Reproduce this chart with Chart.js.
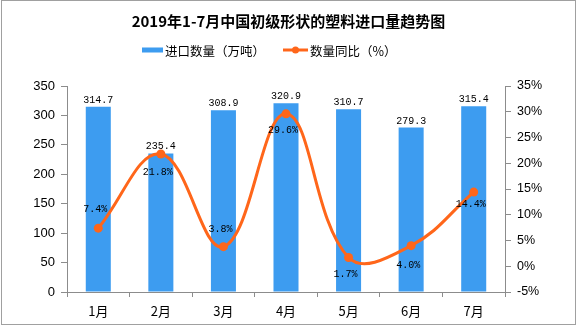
<!DOCTYPE html>
<html>
<head>
<meta charset="utf-8">
<script src="https://cdn.jsdelivr.net/npm/chart.js@4.4.1/dist/chart.umd.min.js"></script>
<style>
  html, body { margin: 0; padding: 0; background: #fff; }
  #wrap { position: relative; width: 577px; height: 327px; }
</style>
</head>
<body>
<div id="wrap"><canvas id="c" width="577" height="327"></canvas></div>
<script>
// Monthly imports of primary-form plastics, Jan–Jul 2019
const months = ['1月', '2月', '3月', '4月', '5月', '6月', '7月'];
const importVolume = [314.7, 235.4, 308.9, 320.9, 310.7, 279.3, 315.4];   // 万吨
const yoyChange = [7.4, 21.8, 3.8, 29.6, 1.7, 4.0, 14.4];                 // %

const chartTitle = '2019年1-7月中国初级形状的塑料进口量趋势图';
const volumeLabel = '进口数量（万吨）';
const yoyLabel = '数量同比（%）';

const BAR_COLOR = '#3d9cf0';
const LINE_COLOR = '#ff661a';
const AXIS_COLOR = '#8c8c8c';
const CJK = '"Noto Sans CJK SC", "Noto Sans", sans-serif';
const MONO = '"Liberation Mono", "DejaVu Sans Mono", monospace';

// placement of each percentage label relative to its point (side, gap in px)
const yoyLabelSide = ['above', 'below', 'above', 'below', 'below', 'below', 'below'];
const yoyLabelGap = [16, 13, 15, 12, 12, 15, 7];

const decorations = {
  id: 'decorations',
  afterDatasetsDraw(chart) {
    const ctx = chart.ctx;
    ctx.save();
    ctx.fillStyle = '#000';
    ctx.font = '10px ' + MONO;
    ctx.textAlign = 'center';

    // values above bars
    const barMeta = chart.getDatasetMeta(0);
    barMeta.data.forEach((bar, i) => {
      ctx.textBaseline = 'alphabetic';
      ctx.fillText(importVolume[i].toFixed(1), bar.x, bar.y - 4);
    });

    // percentages next to line points
    const lineMeta = chart.getDatasetMeta(1);
    lineMeta.data.forEach((pt, i) => {
      const txt = yoyChange[i].toFixed(1) + '%';
      if (yoyLabelSide[i] === 'above') {
        ctx.textBaseline = 'alphabetic';
        ctx.fillText(txt, pt.x - 3, pt.y - yoyLabelGap[i]);
      } else {
        ctx.textBaseline = 'top';
        ctx.fillText(txt, pt.x - 3, pt.y + yoyLabelGap[i]);
      }
    });
    ctx.restore();
  },
  afterDraw(chart) {
    const ctx = chart.ctx;
    const w = chart.width;
    ctx.save();

    // title
    ctx.fillStyle = '#000';
    ctx.font = 'bold 15px ' + CJK;
    ctx.textAlign = 'center';
    ctx.textBaseline = 'middle';
    ctx.fillText(chartTitle, w / 2, 21);

    // legend
    ctx.font = '12.5px ' + CJK;
    ctx.textAlign = 'left';
    const y = 50;
    let x = 142;
    ctx.fillStyle = BAR_COLOR;
    ctx.fillRect(x, y - 2.5, 21, 5);
    x += 23;
    ctx.fillStyle = '#000';
    ctx.fillText(volumeLabel, x, y + 1);
    x = 283;
    ctx.strokeStyle = LINE_COLOR;
    ctx.lineWidth = 3;
    ctx.beginPath();
    ctx.moveTo(x, y);
    ctx.lineTo(x + 25, y);
    ctx.stroke();
    ctx.fillStyle = LINE_COLOR;
    ctx.beginPath();
    ctx.arc(x + 12.5, y, 3.5, 0, Math.PI * 2);
    ctx.fill();
    ctx.fillStyle = '#000';
    ctx.fillText(yoyLabel, x + 27, y + 1);

    // frame
    ctx.strokeStyle = '#a0a0a0';
    ctx.lineWidth = 1;
    ctx.strokeRect(1.5, 0.5, w - 3, chart.height - 3);
    ctx.restore();
  }
};

new Chart(document.getElementById('c'), {
  data: {
    labels: months,
    datasets: [
      {
        type: 'bar',
        label: volumeLabel,
        data: importVolume,
        backgroundColor: BAR_COLOR,
        yAxisID: 'y',
        categoryPercentage: 0.4,
        barPercentage: 1,
        order: 2
      },
      {
        type: 'line',
        label: yoyLabel,
        data: yoyChange,
        borderColor: LINE_COLOR,
        backgroundColor: LINE_COLOR,
        borderWidth: 3,
        pointRadius: 4.5,
        pointBorderWidth: 0,
        pointBackgroundColor: LINE_COLOR,
        tension: 0.4,
        yAxisID: 'y1',
        order: 1
      }
    ]
  },
  options: {
    responsive: false,
    animation: false,
    devicePixelRatio: 1,
    layout: { padding: { top: 86, left: 0, right: 0, bottom: 0 } },
    plugins: {
      legend: { display: false },
      title: { display: false },
      tooltip: { enabled: false }
    },
    scales: {
      x: {
        offset: true,
        grid: { offset: true, drawOnChartArea: false, drawTicks: true, tickLength: 5, color: AXIS_COLOR },
        border: { color: AXIS_COLOR },
        ticks: { color: '#000', font: { family: CJK, size: 13 }, padding: 6 },
        afterFit(scale) { scale.height = 35; }
      },
      y: {
        position: 'left',
        min: 0,
        max: 350,
        grid: { drawOnChartArea: false, drawTicks: true, tickLength: 6, color: AXIS_COLOR },
        border: { color: AXIS_COLOR },
        ticks: { stepSize: 50, color: '#000', font: { family: '"Liberation Sans", Arial, sans-serif', size: 13 }, padding: 6 },
        afterFit(scale) { scale.width = 67; }
      },
      y1: {
        position: 'right',
        min: -5,
        max: 35,
        grid: { drawOnChartArea: false, drawTicks: true, tickLength: 6, color: AXIS_COLOR },
        border: { color: AXIS_COLOR },
        ticks: {
          stepSize: 5,
          color: '#000',
          font: { family: '"Liberation Sans", Arial, sans-serif', size: 12.5 },
          padding: 6,
          callback: v => v + '%'
        },
        afterFit(scale) { scale.width = 72; }
      }
    }
  },
  plugins: [decorations]
});
</script>
</body>
</html>
